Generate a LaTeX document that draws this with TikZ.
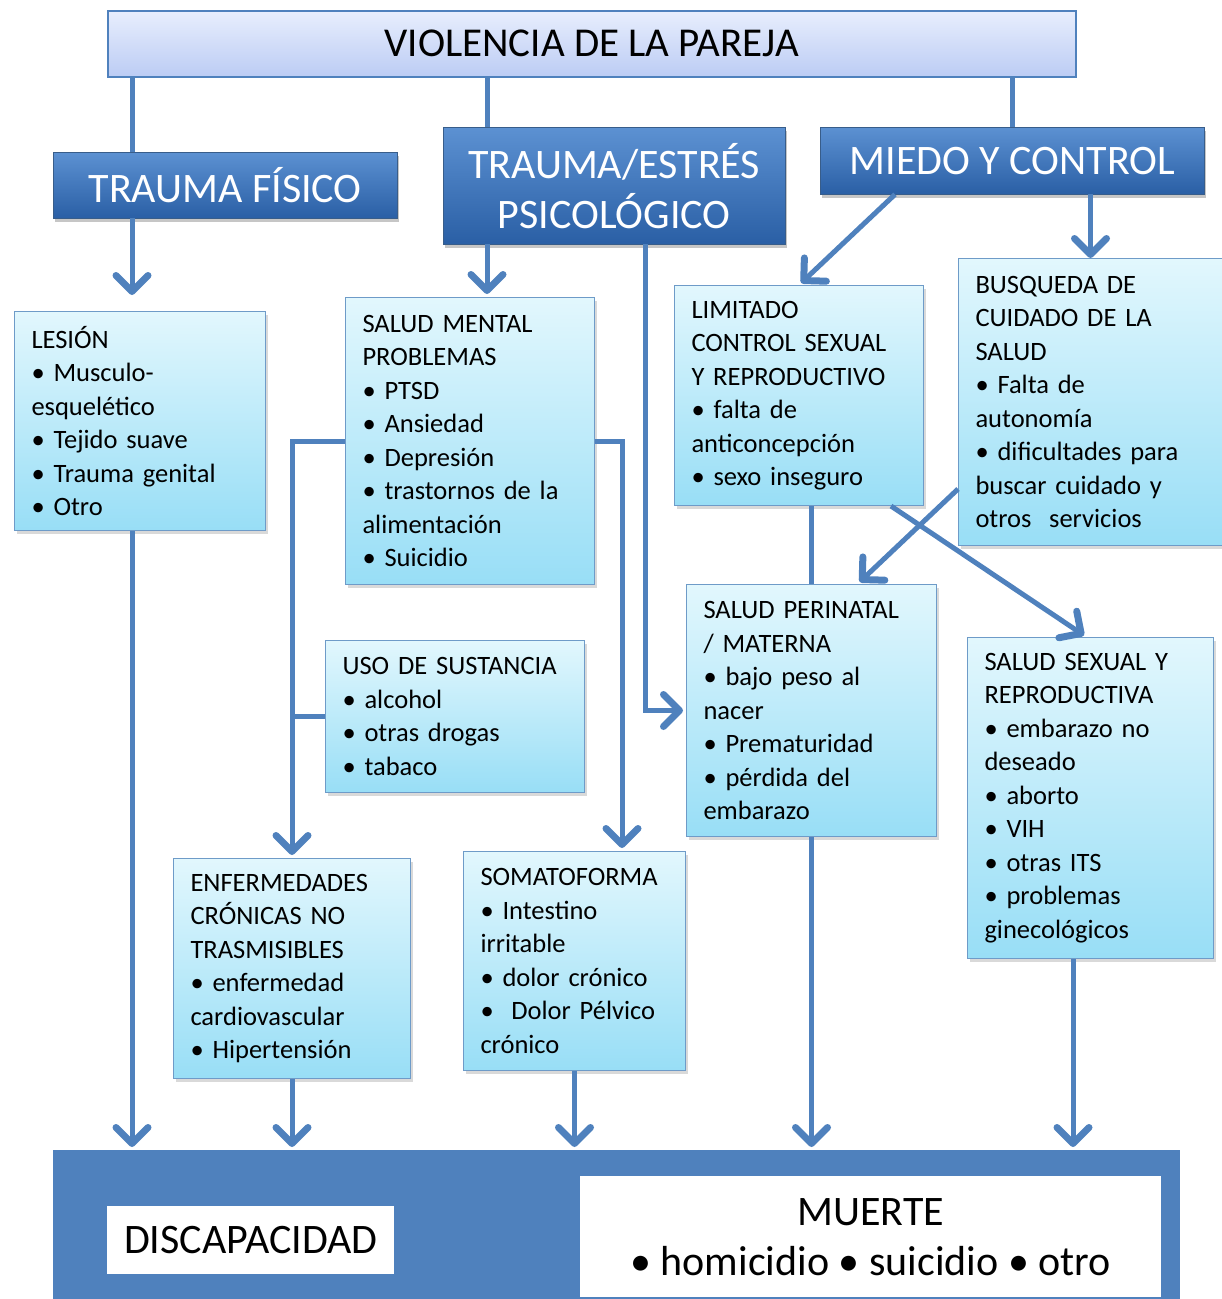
\documentclass[tikz,border=0pt]{standalone}
\usepackage{fontspec}
\setmainfont{Carlito}
\usetikzlibrary{arrows.meta,shadows,calc}
\definecolor{linea}{RGB}{79,129,189}
\definecolor{borde}{RGB}{110,155,200}
\definecolor{cielo arriba}{RGB}{226,247,253}
\definecolor{cielo abajo}{RGB}{152,222,246}
\definecolor{azul arriba}{RGB}{92,145,210}
\definecolor{azul abajo}{RGB}{42,95,165}
\tikzset{
    titulo/.style = {
        draw = linea,
        line width = 1.5pt,
        top color = {rgb,255:red,232;green,238;blue,253},
        bottom color = {rgb,255:red,188;green,204;blue,244},
        font = \fontsize{41}{48}\selectfont,
        anchor = north west,
        },
    cabecera/.style = {
        draw = {rgb,255:red,56;green,93;blue,138},
        top color = azul arriba,
        bottom color = azul abajo,
        text = white,
        align = center,
        font = \fontsize{42}{50}\selectfont,
        anchor = north west,
        drop shadow = {shadow xshift=2pt, shadow yshift=-4pt, opacity=0.45},
        },
    efecto/.style = {
        draw = borde,
        line width = 1pt,
        top color = cielo arriba,
        bottom color = cielo abajo,
        align = left,
        inner xsep = 17pt,
        font = \fontsize{26.5}{33.5}\selectfont,
        anchor = north west,
        drop shadow = {shadow xshift=2pt, shadow yshift=-3pt, opacity=0.3},
        },
    blanco/.style = {
        fill = white,
        align = center,
        font = \fontsize{42}{50}\selectfont,
        anchor = north west,
        },
    enlace/.style = {
        draw = linea,
        line width = 5pt,
        },
    flecha/.style = {
        enlace,
        -{Straight Barb[length=16pt, width=32pt, line width=7pt, round]},
        shorten > = 3pt,
        },
}

\begin{document}
\begin{tikzpicture}[x=1pt, y=-1pt]
    \useasboundingbox (0,0) rectangle (1222,1299);

    % cabeceras
    \node[titulo, minimum width=968pt, minimum height=66pt] (violencia) at (107,10) {VIOLENCIA DE LA PAREJA};
    \node[cabecera, minimum width=344pt, minimum height=66pt] (fisico) at (53,152) {TRAUMA FÍSICO};
    \node[cabecera, minimum width=342pt, minimum height=117pt] (psico) at (443,127) {TRAUMA/ESTRÉS\\PSICOLÓGICO};
    \node[cabecera, minimum width=384pt, minimum height=67pt] (miedo) at (820,127) {MIEDO Y CONTROL};

    % efectos
    \node[efecto, text width=217pt, minimum height=219pt] (lesion) at (14,311)
        {LESIÓN\\• Musculo-\\esquelético\\• Tejido suave\\• Trauma genital\\• Otro};
    \node[efecto, text width=215pt, minimum height=287pt] (mental) at (345,297)
        {SALUD MENTAL\\PROBLEMAS\\• PTSD\\• Ansiedad\\• Depresión\\• trastornos de la\\alimentación\\• Suicidio};
    \node[efecto, text width=215pt, minimum height=220pt] (limitado) at (674,285)
        {LIMITADO\\CONTROL SEXUAL\\Y REPRODUCTIVO\\• falta de\\anticoncepción\\• sexo inseguro};
    \node[efecto, text width=230pt, minimum height=287pt] (busqueda) at (958,258)
        {BUSQUEDA DE\\CUIDADO DE LA\\SALUD\\• Falta de\\autonomía\\• dificultades para\\buscar cuidado y\\otros\ \ servicios};
    \node[efecto, text width=225pt, minimum height=152pt] (sustancia) at (325,640)
        {USO DE SUSTANCIA\\• alcohol\\• otras drogas\\• tabaco};
    \node[efecto, text width=216pt, minimum height=252pt] (perinatal) at (686,584)
        {SALUD PERINATAL\\/ MATERNA\\• bajo peso al\\nacer\\• Prematuridad\\• pérdida del\\embarazo};
    \node[efecto, text width=212pt, minimum height=321pt] (sexual) at (967,637)
        {SALUD SEXUAL Y\\REPRODUCTIVA\\• embarazo no\\deseado\\• aborto\\• VIH\\• otras ITS\\• problemas\\ginecológicos};
    \node[efecto, text width=203pt, minimum height=220pt] (cronicas) at (173,858)
        {ENFERMEDADES\\CRÓNICAS NO\\TRASMISIBLES\\• enfermedad\\cardiovascular\\• Hipertensión};
    \node[efecto, text width=188pt, minimum height=219pt] (somato) at (463,851)
        {SOMATOFORMA\\• Intestino\\irritable\\• dolor crónico\\•\ \ Dolor Pélvico\\crónico};

    % resultado final
    \node[fill=linea, minimum width=1127pt, minimum height=149pt, anchor=north west] (resultado) at (53,1150) {};
    \node[blanco, minimum width=287pt, minimum height=68pt] (discapacidad) at (107,1206) {DISCAPACIDAD};
    \node[blanco, minimum width=581pt, minimum height=121pt] (muerte) at (580,1176) {MUERTE\\• homicidio • suicidio • otro};

    % columnas de las lineas
    \coordinate (col fisico) at (132,0);
    \coordinate (col psico) at (487,0);
    \coordinate (col soma) at (622,0);
    \coordinate (col peri) at (645,0);
    \coordinate (col sexual) at (1073,0);

    \draw[enlace] (violencia.south -| col fisico) -- (fisico.north -| col fisico);
    \draw[enlace] (violencia.south -| col psico) -- (psico.north -| col psico);
    \draw[enlace] (violencia.south -| miedo.north) -- (miedo.north);

    \draw[flecha, shorten >=16pt] (fisico.south -| col fisico) -- (lesion.north -| col fisico);
    \draw[flecha] (psico.south -| col psico) -- (mental.north -| col psico);
    \draw[flecha] (psico.south -| col peri) |- (perinatal.west);
    \draw[flecha] ([xshift=75pt]miedo.south west) -- (limitado.north);
    \draw[flecha, shorten >=0pt] (miedo.south -| busqueda.north) -- (busqueda.north);

    \draw[flecha] (mental.west) -| (cronicas.north);
    \draw[flecha] (mental.east) -| (somato.north -| col soma);
    \draw[enlace] (sustancia.west) -- (sustancia.west -| cronicas.north);

    \draw[enlace] (limitado.south -| perinatal.north) -- (perinatal.north);
    \draw[flecha] ([xshift=-33pt]limitado.south east) -- ([xshift=-4pt]sexual.north);
    \draw[flecha] ([yshift=57pt]busqueda.south west) -- ([xshift=46pt]perinatal.north);

    \draw[flecha] (lesion.south -| col fisico) -- (resultado.north -| col fisico);
    \draw[flecha] (cronicas.south) -- (resultado.north -| cronicas.south);
    \draw[flecha] (somato.south) -- (resultado.north -| somato.south);
    \draw[flecha] (perinatal.south) -- (resultado.north -| perinatal.south);
    \draw[flecha] (sexual.south -| col sexual) -- (resultado.north -| col sexual);
\end{tikzpicture}
\end{document}
